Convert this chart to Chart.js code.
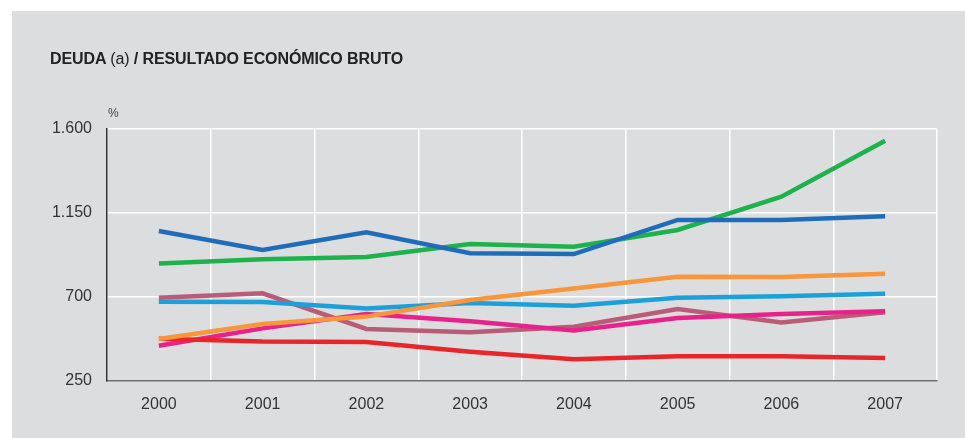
<!DOCTYPE html>
<html>
<head>
<meta charset="utf-8">
<script src="https://cdn.jsdelivr.net/npm/chart.js@4/dist/chart.umd.min.js"></script>
<style>
  html, body { margin: 0; padding: 0; background: #ffffff; }
  #wrap { position: relative; width: 965px; height: 438px; overflow: hidden; background: #ffffff; }
  #panel { position: absolute; left: 12px; top: 11px; right: 0; bottom: 0; background: #dcdddf; }
  #c { position: absolute; left: 0; top: 0; }
  #title { position: absolute; left: 50px; top: 50px; font-family: "Liberation Sans", Arial, sans-serif; font-size: 16px; font-weight: bold; color: #222; white-space: nowrap; letter-spacing: -0.1px; }
  #title .n { font-weight: normal; }
  #unit { position: absolute; left: 108px; top: 106px; font-family: "Liberation Sans", Arial, sans-serif; font-size: 12px; color: #444; }
</style>
</head>
<body>
<div id="wrap">
  <div id="panel"></div>
  <canvas id="c" width="965" height="438"></canvas>
  <div id="title">DEUDA <span class="n">(a)</span> / RESULTADO ECONÓMICO BRUTO</div>
  <div id="unit">%</div>
</div>
<script>
const years = ['2000', '2001', '2002', '2003', '2004', '2005', '2006', '2007'];
const yTicks = [250, 700, 1150, 1600];

const seriesBlue    = [1054, 952, 1047, 934, 930, 1113, 1113, 1132];
const seriesGreen   = [880, 902, 914, 984, 969, 1059, 1237, 1537];
const seriesOrange  = [475, 555, 595, 684, 745, 809, 807, 825];
const seriesCyan    = [675, 673, 639, 668, 653, 696, 704, 718];
const seriesMauve   = [696, 720, 529, 511, 541, 636, 564, 618];
const seriesMagenta = [439, 532, 609, 570, 520, 588, 609, 623];
const seriesRed     = [477, 461, 459, 407, 366, 382, 382, 373];

function ds(data, color) {
  return { data: data, borderColor: color, backgroundColor: color, borderWidth: 4.5,
           pointRadius: 0, pointHoverRadius: 0, tension: 0, fill: false,
           borderCapStyle: 'butt', borderJoinStyle: 'miter' };
}

const fmt = v => String(v).replace(/\B(?=(\d{3})+(?!\d))/g, '.');
const FONT = '"Liberation Sans", Arial, sans-serif';

new Chart(document.getElementById('c'), {
  type: 'line',
  data: {
    labels: years,
    datasets: [
      ds(seriesOrange, '#f7963a'),
      ds(seriesRed, '#e8262a'),
      ds(seriesBlue, '#1f6db8'),
      ds(seriesGreen, '#1db24b'),
      ds(seriesCyan, '#1ba0da'),
      ds(seriesMagenta, '#e8228a'),
      ds(seriesMauve, '#b95c78')
    ]
  },
  options: {
    responsive: false,
    animation: false,
    events: [],
    layout: { padding: { top: 129, right: 28, left: 0, bottom: 0 } },
    plugins: { legend: { display: false }, tooltip: { enabled: false }, title: { display: false } },
    scales: {
      x: {
        type: 'category',
        offset: true,
        grid: { offset: true, color: '#ffffff', lineWidth: 1.5, drawTicks: false },
        border: { display: true, color: '#6b6b6b', width: 1.5 },
        ticks: { color: '#333333', font: { family: FONT, size: 16 }, padding: 14, maxRotation: 0 },
        afterFit: s => { s.height = 57; }
      },
      y: {
        min: 250, max: 1600,
        afterBuildTicks: s => { s.ticks = yTicks.map(v => ({ value: v })); },
        grid: { color: '#ffffff', lineWidth: 1.5, drawTicks: false },
        border: { display: true, color: '#333333', width: 1.5 },
        ticks: { color: '#333333', font: { family: FONT, size: 16 }, padding: 15, callback: v => fmt(v) },
        afterFit: s => { s.width = 107; }
      }
    }
  }
});
</script>
</body>
</html>
